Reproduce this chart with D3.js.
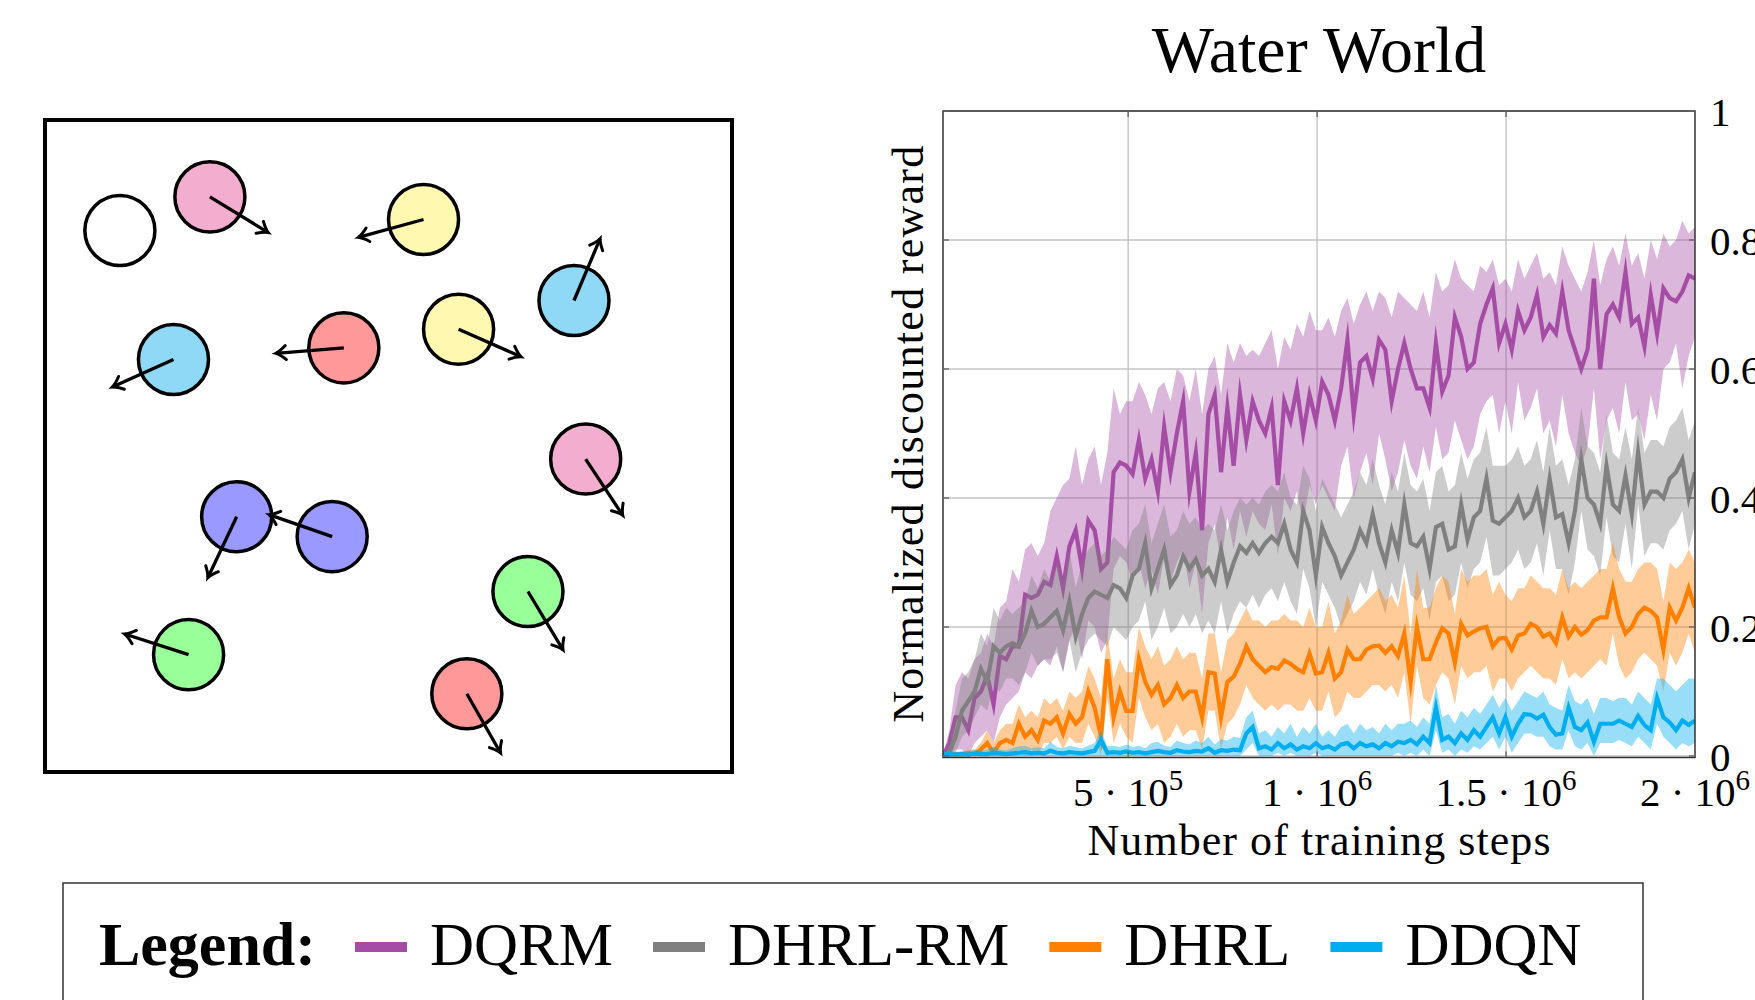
<!DOCTYPE html>
<html>
<head>
<meta charset="utf-8">
<script src="https://cdn.jsdelivr.net/npm/d3@7"></script>
<style>
  body { margin: 0; background: #fff; }
  svg text { font-family: "Liberation Serif", "Times New Roman", serif; fill: #000; }
</style>
</head>
<body>
<svg width="1755" height="1000"></svg>
<script>
// ---- chart data ----
const seriesNames = ['DQRM', 'DHRL-RM', 'DHRL', 'DDQN'];
const seriesColors = ['#a54ca5', '#808080', '#ff8000', '#00adef'];
const xTicks = [5e5, 1e6, 1.5e6, 2e6];
const xTickMantissa = ['5', '1', '1.5', '2'];
const xTickExponent = ['5', '6', '6', '6'];
const yTicks = [0, 0.2, 0.4, 0.6, 0.8, 1];
const yTickLabels = ['0', '0.2', '0.4', '0.6', '0.8', '1'];

// sample positions (training steps), 120 evaluations
const steps = d3.range(120).map(i => 1e4 + i * 1.99e6 / 119);

const dqrmMean = [
  0, 0.02, 0.06, 0.06, 0.04, 0.09, 0.10, 0.125, 0.08, 0.155,
  0.15, 0.17, 0.17, 0.25, 0.245, 0.25, 0.27, 0.265, 0.31, 0.26,
  0.325, 0.35, 0.29, 0.365, 0.35, 0.29, 0.30, 0.44, 0.455, 0.45,
  0.437, 0.49, 0.43, 0.46, 0.41, 0.51, 0.44, 0.50, 0.55, 0.41,
  0.47, 0.35, 0.53, 0.56, 0.44, 0.54, 0.45, 0.56, 0.49, 0.55,
  0.52, 0.50, 0.54, 0.42, 0.55, 0.52, 0.57, 0.50, 0.56, 0.52,
  0.58, 0.56, 0.52, 0.57, 0.645, 0.53, 0.61, 0.62, 0.585, 0.645,
  0.63, 0.55, 0.60, 0.64, 0.60, 0.57, 0.57, 0.54, 0.64, 0.565,
  0.59, 0.68, 0.65, 0.60, 0.61, 0.67, 0.70, 0.725, 0.64, 0.67,
  0.63, 0.69, 0.66, 0.68, 0.715, 0.65, 0.668, 0.655, 0.72, 0.66,
  0.63, 0.60, 0.63, 0.74, 0.60, 0.685, 0.70, 0.68, 0.75, 0.67,
  0.68, 0.635, 0.715, 0.655, 0.725, 0.71, 0.705, 0.72, 0.745, 0.74
];
const dqrmHi = [
  0, 0.04, 0.11, 0.13, 0.12, 0.15, 0.16, 0.19, 0.17, 0.23,
  0.24, 0.29, 0.27, 0.32, 0.33, 0.31, 0.33, 0.38, 0.40, 0.42,
  0.43, 0.48, 0.42, 0.46, 0.48, 0.42, 0.47, 0.57, 0.53, 0.55,
  0.55, 0.58, 0.56, 0.53, 0.57, 0.58, 0.55, 0.60, 0.59, 0.55,
  0.60, 0.53, 0.60, 0.62, 0.56, 0.64, 0.61, 0.64, 0.62, 0.63,
  0.62, 0.64, 0.66, 0.60, 0.65, 0.63, 0.67, 0.65, 0.69, 0.66,
  0.66, 0.68, 0.65, 0.69, 0.71, 0.67, 0.70, 0.72, 0.69, 0.72,
  0.71, 0.68, 0.72, 0.71, 0.70, 0.69, 0.72, 0.68, 0.75, 0.72,
  0.73, 0.77, 0.74, 0.73, 0.72, 0.76, 0.75, 0.77, 0.73, 0.74,
  0.72, 0.77, 0.74, 0.76, 0.78, 0.74, 0.75, 0.73, 0.79, 0.76,
  0.74, 0.72, 0.75, 0.80, 0.73, 0.77, 0.79, 0.76, 0.81, 0.76,
  0.78, 0.74, 0.80, 0.77, 0.81, 0.79, 0.80, 0.83, 0.81, 0.82
];
const dqrmLo = [
  0, 0, 0.01, 0.01, 0, 0.02, 0.03, 0.04, 0.02, 0.06,
  0.08, 0.09, 0.10, 0.13, 0.12, 0.14, 0.15, 0.14, 0.17, 0.13,
  0.18, 0.20, 0.15, 0.21, 0.20, 0.16, 0.18, 0.29, 0.31, 0.30,
  0.27, 0.30, 0.26, 0.29, 0.25, 0.31, 0.27, 0.30, 0.32, 0.26,
  0.30, 0.22, 0.33, 0.36, 0.30, 0.37, 0.32, 0.38, 0.34, 0.38,
  0.36, 0.35, 0.39, 0.31, 0.40, 0.38, 0.41, 0.36, 0.42, 0.39,
  0.42, 0.40, 0.38, 0.45, 0.48, 0.40, 0.44, 0.47, 0.42, 0.50,
  0.46, 0.41, 0.44, 0.49, 0.45, 0.43, 0.48, 0.44, 0.51, 0.46,
  0.47, 0.52, 0.49, 0.46, 0.48, 0.53, 0.55, 0.56, 0.50, 0.55,
  0.50, 0.58, 0.52, 0.54, 0.57, 0.50, 0.52, 0.48, 0.56, 0.50,
  0.47, 0.45, 0.48, 0.57, 0.46, 0.52, 0.54, 0.50, 0.58, 0.52,
  0.53, 0.49, 0.56, 0.52, 0.60, 0.61, 0.64, 0.57, 0.62, 0.65
];

const dhrlRmMean = [
  0, 0.005, 0.03, 0.07, 0.085, 0.10, 0.135, 0.115, 0.17, 0.16,
  0.17, 0.175, 0.17, 0.19, 0.225, 0.20, 0.205, 0.215, 0.225, 0.195,
  0.24, 0.185, 0.22, 0.245, 0.255, 0.25, 0.245, 0.265, 0.26, 0.245,
  0.28, 0.29, 0.33, 0.26, 0.29, 0.32, 0.265, 0.28, 0.31, 0.29,
  0.305, 0.28, 0.29, 0.27, 0.32, 0.27, 0.30, 0.325, 0.315, 0.33,
  0.315, 0.33, 0.34, 0.33, 0.36, 0.32, 0.30, 0.38, 0.35, 0.28,
  0.355, 0.33, 0.31, 0.28, 0.30, 0.32, 0.35, 0.33, 0.375, 0.33,
  0.30, 0.35, 0.315, 0.39, 0.33, 0.325, 0.34, 0.29, 0.355, 0.36,
  0.32, 0.325, 0.39, 0.335, 0.37, 0.38, 0.43, 0.365, 0.36, 0.37,
  0.38, 0.40, 0.37, 0.38, 0.41, 0.36, 0.43, 0.37, 0.375, 0.33,
  0.38, 0.46, 0.40, 0.39, 0.36, 0.45, 0.39, 0.38, 0.435, 0.375,
  0.47, 0.39, 0.41, 0.41, 0.40, 0.43, 0.44, 0.46, 0.40, 0.44
];
const dhrlRmHi = [
  0, 0.02, 0.07, 0.12, 0.13, 0.15, 0.19, 0.17, 0.23, 0.21,
  0.23, 0.22, 0.23, 0.24, 0.28, 0.26, 0.29, 0.27, 0.30, 0.27,
  0.32, 0.26, 0.30, 0.32, 0.33, 0.31, 0.32, 0.34, 0.33, 0.32,
  0.35, 0.36, 0.39, 0.33, 0.36, 0.39, 0.34, 0.35, 0.38, 0.36,
  0.37, 0.35, 0.36, 0.35, 0.39, 0.35, 0.38, 0.40, 0.39, 0.40,
  0.39, 0.41, 0.42, 0.41, 0.44, 0.40, 0.39, 0.45, 0.43, 0.38,
  0.43, 0.41, 0.39, 0.37, 0.39, 0.41, 0.44, 0.42, 0.46, 0.42,
  0.39, 0.44, 0.41, 0.47, 0.42, 0.41, 0.43, 0.38, 0.44, 0.45,
  0.41, 0.42, 0.47, 0.43, 0.46, 0.47, 0.51, 0.45, 0.45, 0.45,
  0.46, 0.48, 0.45, 0.46, 0.49, 0.44, 0.51, 0.45, 0.46, 0.42,
  0.46, 0.54, 0.48, 0.47, 0.44, 0.53, 0.47, 0.46, 0.51, 0.46,
  0.54, 0.47, 0.49, 0.49, 0.48, 0.51, 0.52, 0.54, 0.49, 0.52
];
const dhrlRmLo = [
  0, 0, 0.005, 0.03, 0.04, 0.06, 0.08, 0.07, 0.11, 0.10,
  0.12, 0.12, 0.11, 0.13, 0.16, 0.14, 0.15, 0.15, 0.16, 0.13,
  0.18, 0.13, 0.16, 0.18, 0.19, 0.18, 0.17, 0.20, 0.19, 0.18,
  0.20, 0.21, 0.24, 0.18, 0.20, 0.23, 0.19, 0.20, 0.22, 0.20,
  0.22, 0.19, 0.21, 0.19, 0.24, 0.19, 0.22, 0.24, 0.23, 0.25,
  0.23, 0.25, 0.26, 0.24, 0.27, 0.24, 0.22, 0.29, 0.26, 0.20,
  0.27, 0.25, 0.23, 0.20, 0.22, 0.24, 0.27, 0.25, 0.29, 0.25,
  0.22, 0.27, 0.24, 0.30, 0.25, 0.24, 0.26, 0.21, 0.27, 0.28,
  0.24, 0.25, 0.30, 0.26, 0.29, 0.30, 0.34, 0.28, 0.28, 0.29,
  0.30, 0.32, 0.29, 0.30, 0.33, 0.28, 0.35, 0.29, 0.29, 0.25,
  0.30, 0.38, 0.32, 0.31, 0.28, 0.37, 0.31, 0.30, 0.36, 0.29,
  0.39, 0.31, 0.33, 0.33, 0.32, 0.35, 0.36, 0.38, 0.32, 0.36
];

const dhrlMean = [
  0.002, 0.002, 0.003, 0.002, 0.004, 0.003, 0.01, 0.02, 0.005, 0.02,
  0.025, 0.02, 0.05, 0.03, 0.04, 0.025, 0.055, 0.05, 0.06, 0.035,
  0.065, 0.05, 0.06, 0.10, 0.075, 0.03, 0.15, 0.06, 0.10, 0.07,
  0.07, 0.15, 0.115, 0.095, 0.11, 0.08, 0.09, 0.11, 0.09, 0.10,
  0.10, 0.06, 0.13, 0.128, 0.06, 0.115, 0.123, 0.143, 0.17, 0.15,
  0.14, 0.13, 0.138, 0.135, 0.148, 0.143, 0.135, 0.13, 0.159, 0.128,
  0.13, 0.16, 0.12, 0.13, 0.165, 0.15, 0.15, 0.165, 0.17, 0.171,
  0.16, 0.17, 0.155, 0.19, 0.115, 0.20, 0.15, 0.15, 0.176, 0.198,
  0.19, 0.145, 0.205, 0.187, 0.193, 0.198, 0.20, 0.17, 0.182, 0.183,
  0.165, 0.187, 0.19, 0.205, 0.20, 0.185, 0.19, 0.175, 0.215, 0.185,
  0.20, 0.188, 0.195, 0.21, 0.215, 0.215, 0.26, 0.215, 0.19, 0.20,
  0.22, 0.23, 0.225, 0.215, 0.165, 0.23, 0.21, 0.23, 0.26, 0.23
];
const dhrlHi = [
  0.005, 0.005, 0.007, 0.006, 0.01, 0.01, 0.02, 0.04, 0.02, 0.04,
  0.05, 0.05, 0.08, 0.06, 0.07, 0.06, 0.09, 0.08, 0.09, 0.07,
  0.10, 0.09, 0.10, 0.14, 0.12, 0.09, 0.19, 0.12, 0.15, 0.13,
  0.13, 0.20, 0.17, 0.15, 0.17, 0.14, 0.15, 0.17, 0.15, 0.16,
  0.16, 0.12, 0.19, 0.19, 0.13, 0.18, 0.19, 0.21, 0.23, 0.21,
  0.21, 0.20, 0.21, 0.21, 0.22, 0.21, 0.21, 0.20, 0.23, 0.20,
  0.20, 0.24, 0.19, 0.21, 0.25, 0.22, 0.23, 0.24, 0.25, 0.26,
  0.24, 0.25, 0.23, 0.28, 0.19, 0.29, 0.23, 0.23, 0.26, 0.28,
  0.27, 0.22, 0.29, 0.27, 0.28, 0.28, 0.29, 0.25, 0.27, 0.25,
  0.24, 0.26, 0.26, 0.28, 0.27, 0.26, 0.26, 0.25, 0.29, 0.26,
  0.27, 0.26, 0.27, 0.28, 0.29, 0.29, 0.33, 0.29, 0.27, 0.27,
  0.29, 0.30, 0.30, 0.29, 0.24, 0.30, 0.29, 0.30, 0.32, 0.30
];
const dhrlLo = [
  0, 0, 0, 0, 0, 0, 0, 0, 0, 0,
  0, 0, 0.01, 0, 0.01, 0, 0.02, 0.02, 0.03, 0.01,
  0.03, 0.02, 0.02, 0.05, 0.03, 0, 0.09, 0.02, 0.05, 0.03,
  0.02, 0.09, 0.06, 0.04, 0.05, 0.02, 0.03, 0.05, 0.03, 0.04,
  0.04, 0.01, 0.07, 0.07, 0.01, 0.05, 0.06, 0.08, 0.11, 0.09,
  0.08, 0.07, 0.08, 0.07, 0.08, 0.08, 0.07, 0.07, 0.09, 0.07,
  0.07, 0.10, 0.06, 0.07, 0.10, 0.09, 0.09, 0.10, 0.11, 0.11,
  0.10, 0.11, 0.09, 0.13, 0.05, 0.14, 0.09, 0.08, 0.11, 0.13,
  0.12, 0.08, 0.14, 0.12, 0.13, 0.13, 0.14, 0.10, 0.12, 0.12,
  0.10, 0.12, 0.13, 0.14, 0.13, 0.12, 0.12, 0.11, 0.15, 0.12,
  0.13, 0.12, 0.13, 0.14, 0.15, 0.14, 0.19, 0.14, 0.12, 0.13,
  0.15, 0.16, 0.15, 0.14, 0.10, 0.16, 0.14, 0.16, 0.19, 0.16
];

const ddqnMean = [
  0.002, 0.003, 0.002, 0.003, 0.002, 0.004, 0.003, 0.003, 0.005, 0.004,
  0.003, 0.004, 0.005, 0.006, 0.004, 0.005, 0.004, 0.008, 0.005, 0.004,
  0.006, 0.005, 0.004, 0.006, 0.008, 0.025, 0.005, 0.006, 0.005, 0.007,
  0.005, 0.006, 0.004, 0.006, 0.008, 0.006, 0.005, 0.009, 0.007, 0.006,
  0.008, 0.007, 0.012, 0.005, 0.009, 0.008, 0.01, 0.009, 0.035, 0.045,
  0.012, 0.015, 0.01, 0.02, 0.012, 0.018, 0.01, 0.015, 0.012, 0.02,
  0.012, 0.015, 0.01, 0.018, 0.02, 0.012, 0.02, 0.015, 0.018, 0.012,
  0.02, 0.015, 0.022, 0.02, 0.025, 0.018, 0.03, 0.02, 0.075, 0.025,
  0.03, 0.02, 0.035, 0.025, 0.04, 0.03, 0.045, 0.06, 0.035, 0.06,
  0.03, 0.05, 0.065, 0.064, 0.058, 0.064, 0.045, 0.033, 0.035, 0.075,
  0.045, 0.04, 0.052, 0.022, 0.05, 0.05, 0.05, 0.055, 0.05, 0.045,
  0.062, 0.048, 0.04, 0.09, 0.06, 0.052, 0.04, 0.055, 0.048, 0.055
];
const ddqnHi = [
  0.006, 0.008, 0.006, 0.008, 0.007, 0.01, 0.008, 0.01, 0.015, 0.01,
  0.009, 0.012, 0.015, 0.016, 0.012, 0.014, 0.012, 0.022, 0.014, 0.012,
  0.016, 0.014, 0.012, 0.016, 0.02, 0.04, 0.015, 0.016, 0.014, 0.018,
  0.014, 0.016, 0.012, 0.02, 0.022, 0.016, 0.014, 0.024, 0.02, 0.018,
  0.024, 0.02, 0.03, 0.018, 0.026, 0.024, 0.03, 0.028, 0.06, 0.07,
  0.035, 0.04, 0.03, 0.045, 0.035, 0.05, 0.03, 0.045, 0.035, 0.05,
  0.03, 0.04, 0.03, 0.045, 0.05, 0.035, 0.05, 0.04, 0.045, 0.035,
  0.05, 0.04, 0.05, 0.05, 0.055, 0.045, 0.06, 0.05, 0.11, 0.06,
  0.065, 0.05, 0.07, 0.06, 0.075, 0.065, 0.08, 0.095, 0.075, 0.09,
  0.07, 0.085, 0.10, 0.095, 0.09, 0.10, 0.08, 0.075, 0.07, 0.11,
  0.085, 0.08, 0.09, 0.065, 0.09, 0.09, 0.085, 0.09, 0.09, 0.08,
  0.10, 0.09, 0.08, 0.12, 0.12, 0.11, 0.10, 0.11, 0.12, 0.12
];
const ddqnLo = [
  0, 0, 0, 0, 0, 0, 0, 0, 0, 0,
  0, 0, 0, 0, 0, 0, 0, 0, 0, 0,
  0, 0, 0, 0, 0, 0, 0, 0, 0, 0,
  0, 0, 0, 0, 0, 0, 0, 0, 0, 0,
  0, 0, 0, 0, 0, 0, 0, 0, 0.01, 0.02,
  0, 0, 0, 0.005, 0, 0.005, 0, 0, 0, 0.005,
  0, 0, 0, 0, 0, 0, 0, 0, 0, 0,
  0, 0, 0.005, 0, 0.005, 0, 0.01, 0, 0.04, 0.005,
  0.01, 0, 0.01, 0.005, 0.015, 0.01, 0.02, 0.03, 0.01, 0.03,
  0.005, 0.02, 0.035, 0.035, 0.03, 0.03, 0.015, 0.01, 0.01, 0.04,
  0.015, 0.01, 0.02, 0, 0.02, 0.02, 0.02, 0.025, 0.02, 0.015,
  0.03, 0.02, 0.01, 0.05, 0.03, 0.02, 0.01, 0.02, 0.015, 0.02
];

// ---- water world balls (world units, box is 10 x 9.5) ----
const ballX = [1.09, 2.40, 5.51, 7.70, 1.87, 4.35, 6.02, 7.87, 2.79, 4.18, 7.03, 2.09, 6.14];
const ballY = [1.61, 1.12, 1.45, 2.63, 3.49, 3.32, 3.05, 4.94, 5.78, 6.07, 6.87, 7.79, 8.36];
const ballDx = [0, 0.85, -0.95, 0.38, -0.89, -0.99, 0.91, 0.54, -0.42, -0.92, 0.51, -0.93, 0.49];
const ballDy = [0, 0.52, 0.26, -0.90, 0.40, 0.08, 0.40, 0.82, 0.89, -0.32, 0.85, -0.30, 0.86];
const ballColor = ['#ffffff', '#f3aecf', '#fff8b1', '#8fd8f6', '#8fd8f6', '#ff9999', '#fff8b1',
                   '#f3aecf', '#9999ff', '#9999ff', '#99ff99', '#99ff99', '#ff9999'];
const ballRadius = 0.51;

const svg = d3.select('svg');

// ================= left panel =================
const wx = d3.scaleLinear().domain([0, 10]).range([45, 732]);
const wy = d3.scaleLinear().domain([0, 9.5]).range([120, 772]);

svg.append('defs').append('marker')
    .attr('id', 'head')
    .attr('markerUnits', 'userSpaceOnUse')
    .attr('markerWidth', 30).attr('markerHeight', 30)
    .attr('viewBox', '-15 -15 30 30')
    .attr('refX', 0).attr('refY', 0)
    .attr('orient', 'auto')
    .append('path')
    .attr('d', 'M-10,-7 Q-4,-1.5 0,0 Q-4,1.5 -10,7')
    .attr('fill', 'none').attr('stroke', '#000').attr('stroke-width', 3)
    .attr('stroke-linecap', 'round');

const world = svg.append('g');
world.append('rect')
    .attr('x', wx(0)).attr('y', wy(0))
    .attr('width', wx(10) - wx(0)).attr('height', wy(9.5) - wy(0))
    .attr('fill', 'none').attr('stroke', '#000').attr('stroke-width', 4);

const balls = d3.range(ballX.length);
world.selectAll('circle').data(balls).join('circle')
    .attr('cx', i => wx(ballX[i]))
    .attr('cy', i => wy(ballY[i]))
    .attr('r', wx(ballRadius) - wx(0))
    .attr('fill', i => ballColor[i])
    .attr('stroke', '#000').attr('stroke-width', 3.5);

world.selectAll('line.arrow').data(balls.filter(i => ballDx[i] !== 0 || ballDy[i] !== 0)).join('line')
    .attr('class', 'arrow')
    .attr('x1', i => wx(ballX[i])).attr('y1', i => wy(ballY[i]))
    .attr('x2', i => wx(ballX[i] + ballDx[i])).attr('y2', i => wy(ballY[i] + ballDy[i]))
    .attr('stroke', '#000').attr('stroke-width', 3.3)
    .attr('marker-end', 'url(#head)');

// ================= right panel: chart =================
const x = d3.scaleLinear().domain([1e4, 2e6]).range([943, 1695]);
const y = d3.scaleLinear().domain([0, 1]).range([756, 111]);
const plotLeft = x.range()[0], plotRight = x.range()[1];
const plotTop = y(1), plotBottom = y(0) + 1.5;

// title
svg.append('text')
    .attr('x', (plotLeft + plotRight) / 2).attr('y', 72)
    .attr('text-anchor', 'middle')
    .style('font-size', '66px')
    .text('Water World');

// grid
const grid = svg.append('g');
grid.selectAll('line.gx').data(xTicks.slice(0, 3)).join('line')
    .attr('class', 'gx')
    .attr('x1', d => x(d)).attr('x2', d => x(d))
    .attr('y1', plotTop).attr('y2', plotBottom)
    .attr('stroke', '#c4c4c4').attr('stroke-width', 1.4);
grid.selectAll('line.gy').data(yTicks).join('line')
    .attr('class', 'gy')
    .attr('x1', plotLeft).attr('x2', plotRight)
    .attr('y1', d => y(d)).attr('y2', d => y(d))
    .attr('stroke', '#c4c4c4').attr('stroke-width', 1.4);

// series
svg.append('clipPath').attr('id', 'plotClip')
    .append('rect').attr('x', plotLeft).attr('y', plotTop)
    .attr('width', plotRight - plotLeft).attr('height', plotBottom - plotTop);

const series = [
    { mean: dqrmMean, hi: dqrmHi, lo: dqrmLo },
    { mean: dhrlRmMean, hi: dhrlRmHi, lo: dhrlRmLo },
    { mean: dhrlMean, hi: dhrlHi, lo: dhrlLo },
    { mean: ddqnMean, hi: ddqnHi, lo: ddqnLo }
];

const plot = svg.append('g').attr('clip-path', 'url(#plotClip)');
series.forEach((s, k) => {
    const band = d3.area()
        .x((d, i) => x(steps[i]))
        .y0((d, i) => y(s.lo[i]))
        .y1((d, i) => y(s.hi[i]));
    const line = d3.line()
        .x((d, i) => x(steps[i]))
        .y(d => y(d));
    plot.append('path')
        .attr('d', band(s.mean))
        .attr('fill', seriesColors[k]).attr('fill-opacity', 0.4)
        .attr('stroke', 'none');
    plot.append('path')
        .attr('d', line(s.mean))
        .attr('fill', 'none')
        .attr('stroke', seriesColors[k]).attr('stroke-width', 4.2)
        .attr('stroke-miterlimit', 10);
});

// frame + tick marks
svg.append('rect')
    .attr('x', plotLeft).attr('y', plotTop)
    .attr('width', plotRight - plotLeft).attr('height', plotBottom - plotTop)
    .attr('fill', 'none').attr('stroke', '#333').attr('stroke-width', 1.5);

const tickLen = 6;
const ticks = svg.append('g').attr('stroke', '#666').attr('stroke-width', 1.4);
xTicks.slice(0, 3).forEach(t => {
    ticks.append('line').attr('x1', x(t)).attr('x2', x(t)).attr('y1', plotBottom).attr('y2', plotBottom - tickLen);
    ticks.append('line').attr('x1', x(t)).attr('x2', x(t)).attr('y1', plotTop).attr('y2', plotTop + tickLen);
});
yTicks.forEach(t => {
    ticks.append('line').attr('x1', plotLeft).attr('x2', plotLeft + tickLen).attr('y1', y(t)).attr('y2', y(t));
    ticks.append('line').attr('x1', plotRight).attr('x2', plotRight - tickLen).attr('y1', y(t)).attr('y2', y(t));
});

// y tick labels (right side)
const yAxis = d3.axisRight(y).tickValues(yTicks).tickSize(0).tickPadding(15)
    .tickFormat((d, i) => yTickLabels[i]);
const yg = svg.append('g').attr('transform', `translate(${plotRight},0)`).call(yAxis);
yg.select('.domain').remove();
yg.selectAll('text')
    .style('font-family', '"Liberation Serif", serif')
    .style('font-size', '41px')
    .attr('dy', '0.36em');

// x tick labels with powers of ten
const xl = svg.append('g');
xTicks.forEach((t, i) => {
    const txt = xl.append('text')
        .attr('x', x(t)).attr('y', 806)
        .attr('text-anchor', 'middle')
        .style('font-size', '41px');
    txt.append('tspan').text(xTickMantissa[i] + ' \u00b7 10');
    txt.append('tspan').attr('dy', -16).style('font-size', '29px').text(xTickExponent[i]);
});

// axis titles
svg.append('text')
    .attr('x', (plotLeft + plotRight) / 2).attr('y', 855)
    .attr('text-anchor', 'middle')
    .attr('textLength', 463).attr('lengthAdjust', 'spacing')
    .style('font-size', '44px')
    .text('Number of training steps');

svg.append('text')
    .attr('transform', `translate(923, ${(plotTop + plotBottom) / 2}) rotate(-90)`)
    .attr('text-anchor', 'middle')
    .attr('textLength', 577).attr('lengthAdjust', 'spacing')
    .style('font-size', '44px')
    .text('Normalized discounted reward');

// ================= legend =================
const lg = svg.append('g');
lg.append('rect')
    .attr('x', 63).attr('y', 883).attr('width', 1580).attr('height', 160)
    .attr('fill', 'none').attr('stroke', '#333').attr('stroke-width', 1.5);
lg.append('text')
    .attr('x', 99).attr('y', 965)
    .style('font-size', '62px').style('font-weight', 'bold')
    .text('Legend:');

let lx = 355;
seriesNames.forEach((name, k) => {
    lg.append('line')
        .attr('x1', lx).attr('x2', lx + 52)
        .attr('y1', 947).attr('y2', 947)
        .attr('stroke', seriesColors[k]).attr('stroke-width', 10);
    const t = lg.append('text')
        .attr('x', lx + 75).attr('y', 965)
        .style('font-size', '61px')
        .text(name);
    lx = lx + 75 + t.node().getComputedTextLength() + 40;
});
</script>
</body>
</html>
